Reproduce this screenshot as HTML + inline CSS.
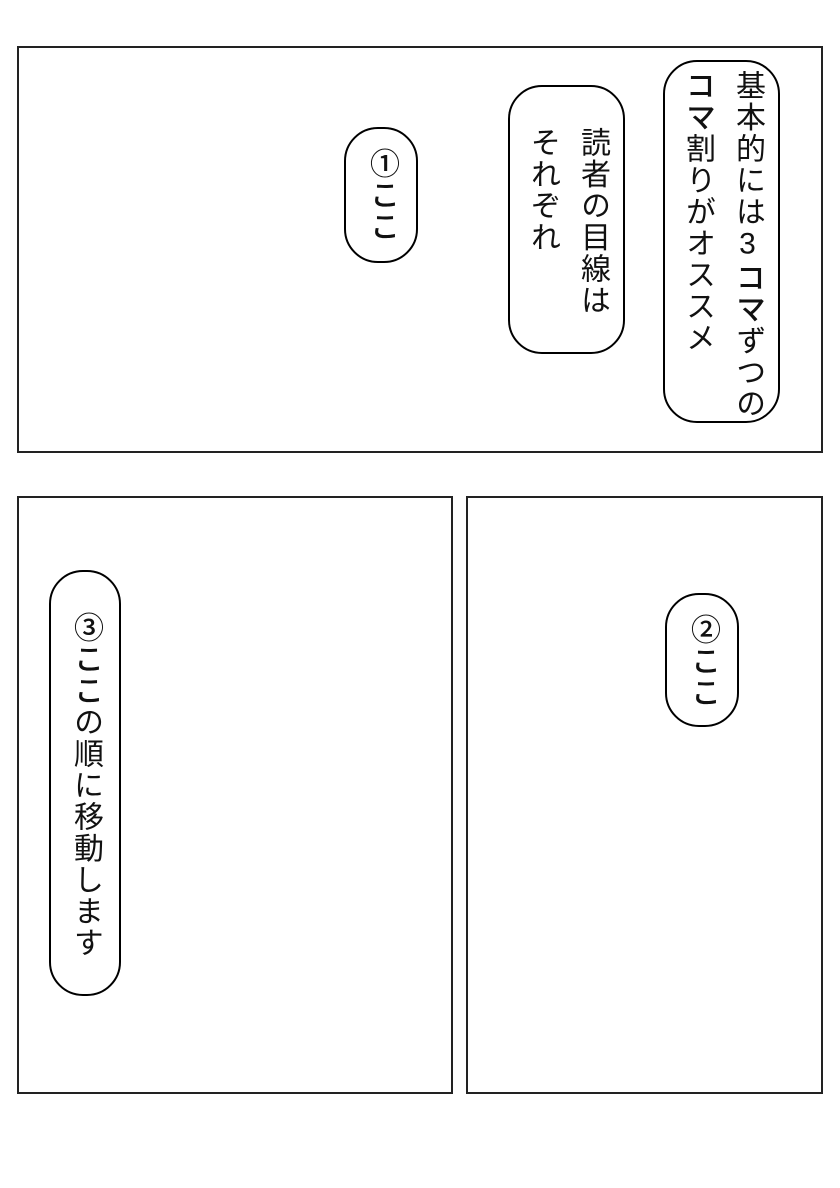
<!DOCTYPE html>
<html><head><meta charset="utf-8"><style>
body{margin:0;width:840px;height:1188px;background:#fff;position:relative;overflow:hidden;font-family:"Liberation Sans","Noto Sans CJK JP",sans-serif;}
.p{position:absolute;border:2px solid #222;box-sizing:border-box;}
.b{position:absolute;border:2.5px solid #000;border-radius:34px;box-sizing:border-box;background:#fff;}
.t{position:absolute;writing-mode:vertical-rl;text-orientation:upright;font-size:30px;line-height:30px;letter-spacing:1.5px;color:#111;white-space:nowrap;transform:translateX(-50%);}
.m{font-weight:500;}
</style></head><body>
<div class="p" style="left:17px;top:46px;width:806px;height:407px"></div>
<div class="p" style="left:17px;top:496px;width:436px;height:598px"></div>
<div class="p" style="left:466px;top:496px;width:357px;height:598px"></div>

<div class="b" style="left:344px;top:127px;width:74px;height:136px"></div>
<div class="t m" style="left:381px;top:148px">①ここ</div>

<div class="b" style="left:508px;top:85px;width:117px;height:269px"></div>
<div class="t" style="left:592px;top:127px">読者の目線は</div>
<div class="t" style="left:542px;top:127px">それぞれ</div>

<div class="b" style="left:663px;top:60px;width:117px;height:363px"></div>
<div class="t" style="left:747px;top:70px">基本的には3<span class="m">コマ</span>ずつの</div>
<div class="t" style="left:697px;top:70px"><span class="m">コマ</span>割りがオススメ</div>

<div class="b" style="left:665px;top:593px;width:74px;height:134px"></div>
<div class="t m" style="left:702px;top:614px">②ここ</div>

<div class="b" style="left:49px;top:570px;width:72px;height:426px"></div>
<div class="t" style="left:85px;top:612px"><span class="m">③ここ</span>の順に移動します</div>
</body></html>
